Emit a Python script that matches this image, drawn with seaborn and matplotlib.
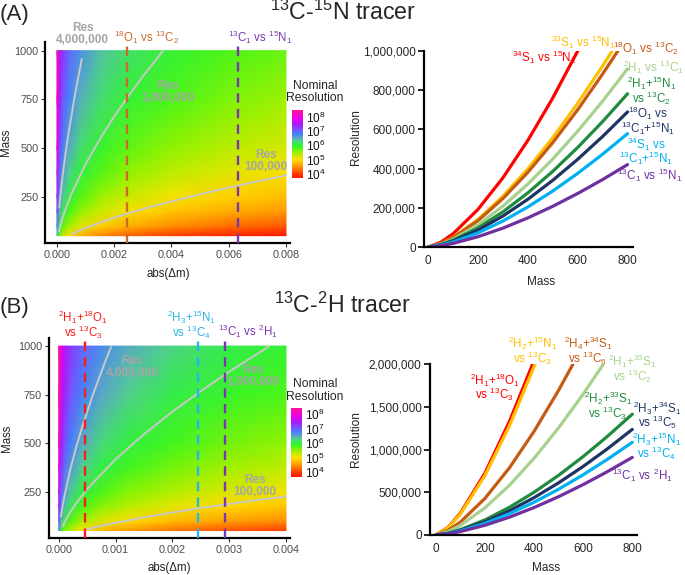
import matplotlib
matplotlib.use("Agg")
import matplotlib.pyplot as plt
import matplotlib.ticker as ticker
from matplotlib.colors import LinearSegmentedColormap, Normalize
import pandas as pd
import seaborn as sns

sns.set_theme(style="ticks")
plt.rcParams["font.family"] = ["Liberation Sans", "DejaVu Sans"]
plt.rcParams["mathtext.default"] = "regular"

# ---------------- heatmap data: log10 nominal resolution on a coarse grid
HEAT_MASS = [50, 100, 175, 250, 375, 500, 750, 1000]

A_DM = [0, 0.0001, 0.0002, 0.0004, 0.0008, 0.0015, 0.0025, 0.004, 0.006, 0.008]
A_LOGRES = [
    [6.32, 5.62, 5.32, 5.02, 4.72, 4.44, 4.22, 4.02, 3.84, 3.72],
    [6.77, 6.07, 5.77, 5.47, 5.17, 4.89, 4.67, 4.47, 4.29, 4.17],
    [7.13, 6.43, 6.13, 5.83, 5.53, 5.26, 5.04, 4.83, 4.66, 4.53],
    [7.37, 6.67, 6.37, 6.07, 5.76, 5.49, 5.27, 5.07, 4.89, 4.76],
    [7.63, 6.93, 6.63, 6.33, 6.03, 5.76, 5.53, 5.33, 5.15, 5.03],
    [7.82, 7.12, 6.82, 6.52, 6.22, 5.94, 5.72, 5.52, 5.34, 5.22],
    [8.08, 7.38, 7.08, 6.78, 6.48, 6.21, 5.98, 5.78, 5.60, 5.48],
    [8.27, 7.57, 7.27, 6.97, 6.67, 6.39, 6.17, 5.97, 5.79, 5.67],
]

B_DM = [0, 0.00005, 0.0001, 0.0002, 0.0004, 0.00075, 0.00125, 0.002, 0.003, 0.004]
B_LOGRES = [
    [6.62, 5.92, 5.62, 5.32, 5.02, 4.74, 4.52, 4.32, 4.14, 4.02],
    [7.07, 6.37, 6.07, 5.77, 5.47, 5.19, 4.97, 4.77, 4.59, 4.47],
    [7.43, 6.73, 6.43, 6.13, 5.83, 5.56, 5.34, 5.13, 4.96, 4.83],
    [7.67, 6.97, 6.67, 6.37, 6.06, 5.79, 5.57, 5.37, 5.19, 5.06],
    [7.93, 7.23, 6.93, 6.63, 6.33, 6.06, 5.83, 5.63, 5.45, 5.33],
    [8.12, 7.42, 7.12, 6.82, 6.52, 6.24, 6.02, 5.82, 5.64, 5.52],
    [8.38, 7.68, 7.38, 7.08, 6.78, 6.51, 6.28, 6.08, 5.90, 5.78],
    [8.57, 7.87, 7.57, 7.27, 6.97, 6.69, 6.47, 6.27, 6.09, 5.97],
]

# iso-resolution contour lines (abs(dm), mass)
A_RES4M_DM = [0.00008, 0.00012, 0.0002, 0.0003, 0.0004, 0.0006, 0.0008, 0.00087]
A_RES4M_MASS = [195, 256, 360, 471, 571, 748, 906, 958]
A_RES1M_DM = [0.00007, 0.0001, 0.0002, 0.0003, 0.0005, 0.001, 0.0015, 0.002, 0.0025, 0.003, 0.0037]
A_RES1M_MASS = [71, 90, 143, 187, 263, 417, 546, 662, 768, 868, 998]
A_RES100K_DM = [0.0005, 0.001, 0.002, 0.003, 0.004, 0.005, 0.006, 0.007, 0.008]
A_RES100K_MASS = [57, 90, 143, 187, 226, 263, 297, 329, 360]

B_RES4M_DM = [0.00004, 0.00007, 0.0001, 0.0002, 0.0003, 0.0004, 0.0006, 0.0008, 0.00092]
B_RES4M_MASS = [123, 179, 226, 360, 471, 571, 748, 906, 995]
B_RES1M_DM = [0.00007, 0.0001, 0.0002, 0.0003, 0.0005, 0.001, 0.0015, 0.002, 0.0025, 0.003, 0.0037]
B_RES1M_MASS = [71, 90, 143, 187, 263, 417, 546, 662, 768, 868, 998]
B_RES100K_DM = [0.00045, 0.0007, 0.001, 0.0015, 0.002, 0.0025, 0.003, 0.0035, 0.004]
B_RES100K_MASS = [53, 71, 90, 118, 143, 166, 187, 207, 226]

RES_TEXT = ["Res\n4,000,000", "Res\n1,000,000", "Res\n100,000"]

# mass differences marked by dashed lines
A_VLINE_DM = [0.002464, 0.00632]
A_VLINE_LABELS = ["$^{18}$O$_1$ vs $^{13}$C$_2$", "$^{13}$C$_1$ vs $^{15}$N$_1$"]
B_VLINE_DM = [0.000458, 0.002446, 0.002922]
B_VLINE_LABELS = ["$^{2}$H$_1$+$^{18}$O$_1$\nvs $^{13}$C$_3$",
                  "$^{2}$H$_3$+$^{15}$N$_1$\nvs $^{13}$C$_4$",
                  "$^{13}$C$_1$ vs $^{2}$H$_1$"]

# ---------------- resolution vs mass curves
LINE_MASS = [0, 50, 100, 200, 300, 400, 500, 600, 700, 800]

A_LABELS = [
    "$^{34}$S$_1$ vs $^{15}$N$_2$",
    "$^{33}$S$_1$ vs $^{15}$N$_1$",
    "$^{18}$O$_1$ vs $^{13}$C$_2$",
    "$^{2}$H$_1$ vs $^{13}$C$_1$",
    "$^{2}$H$_1$+$^{15}$N$_1$\nvs $^{13}$C$_2$",
    "$^{18}$O$_1$ vs\n$^{13}$C$_1$+$^{15}$N$_1$",
    "$^{34}$S$_1$ vs\n$^{13}$C$_1$+$^{15}$N$_1$",
    "$^{13}$C$_1$ vs $^{15}$N$_1$",
]
A_END_MASS = [600, 738, 761, 800, 800, 800, 800, 800]
A_RES = [
    [0, 24000, 68000, 192400, 353400, 544200, 760500, 1000000],
    [0, 17600, 49900, 141100, 259200, 399100, 557800, 733200, 924000, 1000000],
    [0, 16800, 47600, 134800, 247600, 381200, 532700, 700300, 882500, 1000000],
    [0, 14200, 40200, 113600, 208800, 321400, 449200, 590500, 744100, 909100],
    [0, 12200, 34600, 97700, 179500, 276400, 386300, 507800, 639900, 781800],
    [0, 10800, 30500, 86100, 158200, 243600, 340400, 447500, 563900, 689000],
    [0, 9000, 25600, 72300, 132800, 204500, 285800, 375700, 473400, 578300],
    [0, 6600, 18600, 52600, 96500, 148600, 207700, 273100, 344100, 420400],
]

B_LABELS = [
    "$^{2}$H$_1$+$^{18}$O$_1$\nvs $^{13}$C$_3$",
    "$^{2}$H$_2$+$^{15}$N$_1$\nvs $^{13}$C$_3$",
    "$^{2}$H$_4$+$^{34}$S$_1$\nvs $^{13}$C$_6$",
    "$^{2}$H$_1$+$^{33}$S$_1$\nvs $^{13}$C$_2$",
    "$^{2}$H$_2$+$^{33}$S$_1$\nvs $^{13}$C$_3$",
    "$^{2}$H$_3$+$^{34}$S$_1$\nvs $^{13}$C$_5$",
    "$^{2}$H$_3$+$^{15}$N$_1$\nvs $^{13}$C$_4$",
    "$^{13}$C$_1$ vs $^{2}$H$_1$",
]
B_END_MASS = [394, 404, 558, 682, 800, 800, 800, 800]
B_RES = [
    [0, 90600, 256300, 725000, 1331800, 2000000],
    [0, 87200, 246600, 697500, 1281400, 1972800, 2000000],
    [0, 53600, 151700, 429100, 788300, 1213600, 1696000, 2000000],
    [0, 39700, 112300, 317600, 583500, 898400, 1255500, 1650500, 2000000],
    [0, 22100, 62600, 176900, 325000, 500400, 699300, 919300, 1158400, 1415300],
    [0, 19300, 54700, 154600, 284000, 437300, 611100, 803300, 1012300, 1236800],
    [0, 17000, 48000, 135800, 249400, 384000, 536600, 705500, 889000, 1086100],
    [0, 14200, 40200, 113600, 208800, 321400, 449200, 590500, 744100, 909100],
]

LINE_COLORS = ["#FF0000", "#FFC000", "#C55A11", "#A9D18E",
               "#1E8B3D", "#1F3464", "#00B0F0", "#7030A0"]

# ---------------- styling
VMIN, VMAX = 3.7, 8.45
CMAP_STOPS = [(3.70, "#FF1500"), (4.00, "#FF3C00"), (4.50, "#FF9600"),
              (5.00, "#FFE100"), (5.50, "#98F200"), (5.85, "#3CF520"),
              (6.05, "#30F040"), (6.30, "#52D08E"), (6.55, "#5C9FD2"),
              (6.80, "#3F7FFF"), (7.05, "#7658FF"), (7.40, "#A020F8"),
              (7.90, "#EC00E6"), (8.45, "#FF1493")]
RES_CMAP = LinearSegmentedColormap.from_list(
    "res", [((v - VMIN) / (VMAX - VMIN), c) for v, c in CMAP_STOPS])
RES_NORM = Normalize(VMIN, VMAX)

GRAY_TEXT = "#A6A6A6"
TICK_GRAY = "#4D4D4D"


def heat_panel(fig, rect, cbar_rect, dm, logres, contours, vlines, vcolors,
               vlabels, vlabel_pos, res_pos, xlim, ylim, xticks, xlabel_y, ylabel_x):
    ax = fig.add_axes(rect)
    mesh = ax.pcolormesh(dm, HEAT_MASS, logres, shading="gouraud",
                         cmap=RES_CMAP, norm=RES_NORM, rasterized=True)
    for cdm, cmass in contours:
        ax.plot(cdm, cmass, color="#C8C8C8", lw=1.4, zorder=3)
    for x, col in zip(vlines, vcolors):
        ax.axvline(x, color=col, lw=1.7, ls=(0, (4, 2.6)), zorder=4)
    for (tx, ty), lab, col in zip(vlabel_pos, vlabels, vcolors):
        ax.text(tx, ty, lab, color=col, fontsize=8.3, ha="center", va="center",
                multialignment="center", clip_on=False, linespacing=0.85)
    for (tx, ty), lab in zip(res_pos, RES_TEXT):
        ax.text(tx, ty, lab, color=GRAY_TEXT, fontsize=8.5, fontweight="bold",
                ha="center", va="center", multialignment="center",
                clip_on=False, linespacing=1.0, zorder=5)
    ax.set_xlim(xlim)
    ax.set_ylim(ylim)
    ax.set_xticks(xticks)
    ax.xaxis.set_major_formatter(ticker.FormatStrFormatter("%.3f"))
    ax.set_yticks([250, 500, 750, 1000])
    sns.despine(ax=ax)
    for side in ("left", "bottom"):
        ax.spines[side].set_linewidth(1.6)
        ax.spines[side].set_color("black")
    ax.tick_params(length=3, width=0.8, color="#333333", labelcolor=TICK_GRAY,
                   labelsize=7.8, pad=2)
    ax.set_xlabel("abs(Δm)", fontsize=8.3, color="#222222")
    ax.set_ylabel("Mass", fontsize=8.3, color="#222222")
    ax.xaxis.set_label_coords(0.5, xlabel_y)
    ax.yaxis.set_label_coords(ylabel_x, 0.5)

    cax = fig.add_axes(cbar_rect)
    cb = fig.colorbar(mesh, cax=cax, ticks=[4, 5, 6, 7, 8])
    cb.ax.set_yticklabels([f"10$^{n}$" for n in (4, 5, 6, 7, 8)])
    cb.outline.set_visible(False)
    cax.tick_params(length=0, labelsize=8.5, pad=2, labelcolor="#111111")
    return ax


def line_panel(fig, rect, labels, end_mass, res, label_pos, xlim, ylim, yticks,
               xlabel_y, ylabel_x):
    rows = []
    for lab, end, vals in zip(labels, end_mass, res):
        masses = [m for m in LINE_MASS if m < end] + [end]
        for m, v in zip(masses, vals):
            rows.append({"series": lab, "mass": m, "resolution": v})
    df = pd.DataFrame(rows)
    ax = fig.add_axes(rect)
    sns.lineplot(data=df, x="mass", y="resolution", hue="series",
                 hue_order=labels, palette=dict(zip(labels, LINE_COLORS)),
                 sort=False, estimator=None, lw=2.3, legend=False, ax=ax)
    for (tx, ty), lab, col in zip(label_pos, labels, LINE_COLORS):
        ax.text(tx, ty, lab, color=col, fontsize=8.4, ha="center", va="center",
                multialignment="center", clip_on=False, linespacing=0.8)
    ax.set_xlim(xlim)
    ax.set_ylim(ylim)
    ax.set_xticks([0, 200, 400, 600, 800])
    ax.set_yticks(yticks)
    ax.yaxis.set_major_formatter(ticker.FuncFormatter(lambda v, p: f"{v:,.0f}"))
    sns.despine(ax=ax)
    for side in ("left", "bottom"):
        ax.spines[side].set_linewidth(1.6)
        ax.spines[side].set_color("black")
    ax.tick_params(axis="y", length=4, width=1.2, color="black", labelsize=8.5, pad=2)
    ax.tick_params(axis="x", length=0, labelsize=8.5, pad=6)
    ax.set_xlabel("Mass", fontsize=8.5)
    ax.set_ylabel("Resolution", fontsize=8.5)
    ax.xaxis.set_label_coords(0.56, xlabel_y)
    ax.yaxis.set_label_coords(ylabel_x, 0.56)
    return ax


fig = plt.figure(figsize=(6.85, 5.75), dpi=100)

# ---- panel A
heat_panel(fig, [0.0664, 0.5769, 0.357, 0.3506], [0.4263, 0.6904, 0.0161, 0.1183],
           A_DM, A_LOGRES,
           [(A_RES4M_DM, A_RES4M_MASS), (A_RES1M_DM, A_RES1M_MASS),
            (A_RES100K_DM, A_RES100K_MASS)],
           A_VLINE_DM, ["#CC6A2C", "#7A35B0"], A_VLINE_LABELS,
           [(0.00314, 1070), (0.00709, 1070)],
           [(0.0009, 1086), (0.00388, 790), (0.0073, 433)],
           (-0.0004, 0.00814), (11, 1046), [0, 0.002, 0.004, 0.006, 0.008],
           -0.1225, -0.136)
fig.text(315 / 685, 1 - 92 / 575, "Nominal\nResolution", fontsize=8.7,
         ha="center", va="center", linespacing=1.1)

line_panel(fig, [0.619, 0.5704, 0.3047, 0.3409], A_LABELS, A_END_MASS, A_RES,
           [(465, 969000), (621, 1046000), (874, 1015000), (905, 918000),
            (896, 797000), (884, 644000), (874, 488000), (890, 367000)],
           (-17, 821), (0, 1000000), [0, 200000, 400000, 600000, 800000, 1000000],
           -0.148, -0.297)

fig.text(0.0, 1 - 20 / 575, "(A)", fontsize=16, va="baseline", ha="left")
fig.text(343 / 685, 1 - 20 / 575, "$^{13}$C-$^{15}$N tracer", fontsize=16.7,
         va="baseline", ha="center")

# ---- panel B
heat_panel(fig, [0.0715, 0.0638, 0.3518, 0.3478], [0.4248, 0.171, 0.0161, 0.12],
           B_DM, B_LOGRES,
           [(B_RES4M_DM, B_RES4M_MASS), (B_RES1M_DM, B_RES1M_MASS),
            (B_RES100K_DM, B_RES100K_MASS)],
           B_VLINE_DM, ["#FF1A1A", "#29B5E8", "#7A35B0"], B_VLINE_LABELS,
           [(0.00043, 1110), (0.00234, 1110), (0.00333, 1074)],
           [(0.00129, 893), (0.00342, 847), (0.00346, 281)],
           (-0.000171, 0.00407), (10, 1040), [0, 0.001, 0.002, 0.003, 0.004],
           -0.1185, -0.150)
fig.text(315 / 685, 1 - 390.5 / 575, "Nominal\nResolution", fontsize=8.7,
         ha="center", va="center", linespacing=1.1)

line_panel(fig, [0.6277, 0.0696, 0.3018, 0.2969], B_LABELS, B_END_MASS, B_RES,
           [(240, 1728000), (395, 2156000), (619, 2156000), (799, 1945000),
            (701, 1511000), (901, 1400000), (901, 1040000), (839, 703000)],
           (-24, 818), (0, 2000000), [0, 500000, 1000000, 1500000, 2000000],
           -0.158, -0.329)

fig.text(0.0, 1 - 313 / 575, "(B)", fontsize=16, va="baseline", ha="left")
fig.text(342.5 / 685, 1 - 313 / 575, "$^{13}$C-$^{2}$H tracer", fontsize=16.7,
         va="baseline", ha="center")

fig.savefig("out.png", dpi=100)
